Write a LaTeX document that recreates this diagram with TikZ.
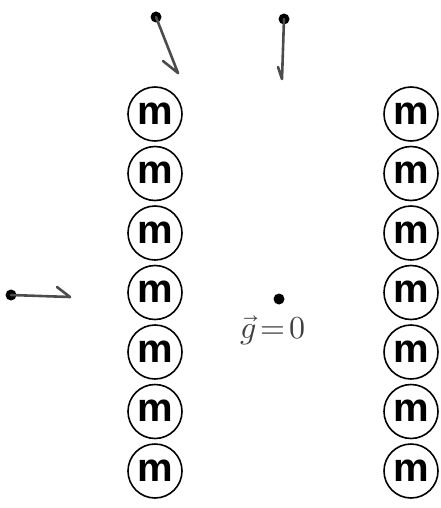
\documentclass[tikz,border=0pt]{standalone}
\usepackage{fontspec}
\usepackage{unicode-math}
\setmainfont{Liberation Sans}
\setmathfont{Latin Modern Math}
\begin{document}
\begin{tikzpicture}[x=1pt,y=-1pt,
  mass/.style={circle,draw=black,line width=1.6pt,minimum size=54pt,inner sep=0pt,
    font=\fontsize{40}{40}\selectfont\bfseries},
  pt/.style={circle,fill=black,minimum size=11pt,inner sep=0pt},
  pen/.style={draw=black!70,line width=2.6pt,line cap=round,line join=round}]
\useasboundingbox (0,0) rectangle (441,508);
% two columns of point masses
\foreach \i in {0,...,6} {
  \node[mass] (L\i) at (155,{114+59.5*\i}) {\raisebox{1pt}{m}};
  \node[mass] (R\i) at (411,{114+59.5*\i}) {\raisebox{1pt}{m}};
}
% test points with sketched field arrows
\node[pt] (pA) at (156,17) {};
\coordinate (tA) at (178,73);
\coordinate (bA) at (163,61);
\draw[pen] (pA.center) -- (tA) -- (bA);

\node[pt] (pB) at (284,19) {};
\coordinate (tB) at (282,79);
\coordinate (bB) at (278,67);
\draw[pen] (pB.center) -- (tB) -- (bB);

\node[pt] (pC) at (11,295) {};
\coordinate (tC) at (70,297);
\coordinate (bC) at (57,287);
\draw[pen] (pC.center) -- (tC) -- (bC);

\node[pt] (pD) at (279,299) {};
\node[text=black!75,font=\fontsize{32}{32}\selectfont] (gz) at (273,330)
  {$\vec{g}\mkern-3mu=\mkern-3mu0$};
\end{tikzpicture}
\end{document}
